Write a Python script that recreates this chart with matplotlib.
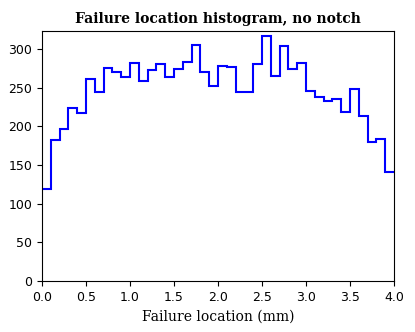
import numpy as np
from matplotlib import pyplot as plt

# histogram counts per 0.1 mm bin
bin_edges = np.linspace(0.0, 4.0, 41)
counts    = [119, 182, 196, 224, 217, 261, 244, 275, 270, 263,
             282, 259, 273, 280, 264, 274, 283, 305, 270, 252,
             278, 276, 244, 244, 281, 316, 265, 303, 274, 282,
             245, 238, 233, 235, 218, 248, 213, 180, 183, 141]

fig = plt.figure(figsize=(4.15, 3.32), dpi=100)
ax = fig.add_axes([42/415, 1 - 281/332, (394 - 42)/415, (281 - 31)/332])
ax.stairs(counts, bin_edges, baseline=None, color='b', linewidth=1.5)
ax.set_xlim(0, 4.0)
ax.set_ylim(0, 323)
ax.set_xticks(np.arange(0, 4.01, 0.5))
ax.set_yticks(np.arange(0, 301, 50))
ax.tick_params(labelsize=9)
ax.set_xlabel('Failure location (mm)', family='DejaVu Serif', fontsize=10)
ax.set_title('Failure location histogram, no notch', family='DejaVu Serif',
             fontweight='bold', fontsize=10)
fig.savefig('out.png', dpi=100)
